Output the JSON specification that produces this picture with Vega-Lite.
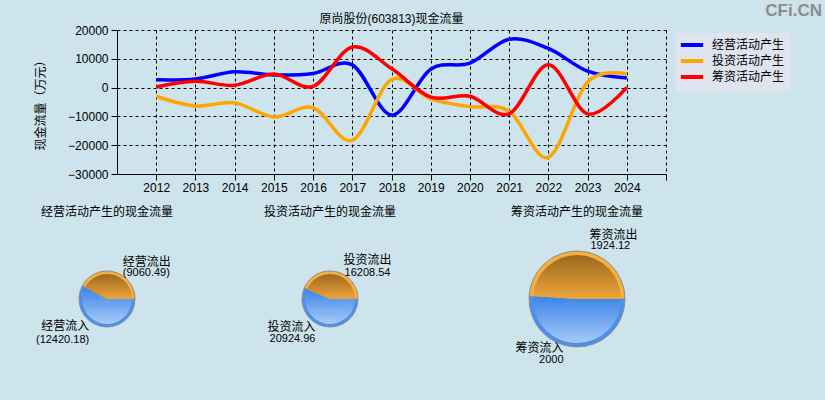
{
  "$schema": "https://vega.github.io/schema/vega-lite/v6.json",
  "background": "#cde4ec",
  "padding": {"left": 33, "top": 2, "right": 3, "bottom": 31},
  "title": {"text": "CFi.CN", "anchor": "end", "frame": "bounds", "fontSize": 17, "fontWeight": "bold", "color": "#8c8c8c", "font": "Liberation Sans", "dx": 31, "offset": -7},
  "config": {
    "font": "Liberation Sans, Noto Sans CJK SC",
    "view": {"stroke": null},
    "title": {"font": "Liberation Sans, Noto Sans CJK SC", "fontSize": 12, "fontWeight": "normal", "color": "#000"},
    "axis": {"labelFont": "Liberation Sans, Noto Sans CJK SC", "labelFontSize": 12, "labelColor": "#000", "titleFont": "Noto Sans CJK SC", "titleFontSize": 12, "titleFontWeight": "normal", "titleColor": "#000", "domainColor": "#000", "tickColor": "#000", "gridColor": "#000", "gridOpacity": 1, "gridDash": [3, 3], "gridWidth": 1}
  },
  "datasets": {
    "flows": [
      {"year": 2012, "s": "经营活动产生", "v": 2700}, {"year": 2013, "s": "经营活动产生", "v": 3000}, {"year": 2014, "s": "经营活动产生", "v": 5500}, {"year": 2015, "s": "经营活动产生", "v": 4400}, {"year": 2016, "s": "经营活动产生", "v": 4900}, {"year": 2017, "s": "经营活动产生", "v": 7900}, {"year": 2018, "s": "经营活动产生", "v": -9500}, {"year": 2019, "s": "经营活动产生", "v": 6400}, {"year": 2020, "s": "经营活动产生", "v": 8500}, {"year": 2021, "s": "经营活动产生", "v": 16800}, {"year": 2022, "s": "经营活动产生", "v": 13600}, {"year": 2023, "s": "经营活动产生", "v": 5700}, {"year": 2024, "s": "经营活动产生", "v": 3359.69},
      {"year": 2012, "s": "投资活动产生", "v": -3000}, {"year": 2013, "s": "投资活动产生", "v": -6400}, {"year": 2014, "s": "投资活动产生", "v": -5300}, {"year": 2015, "s": "投资活动产生", "v": -10200}, {"year": 2016, "s": "投资活动产生", "v": -7000}, {"year": 2017, "s": "投资活动产生", "v": -18300}, {"year": 2018, "s": "投资活动产生", "v": 2800}, {"year": 2019, "s": "投资活动产生", "v": -3900}, {"year": 2020, "s": "投资活动产生", "v": -6600}, {"year": 2021, "s": "投资活动产生", "v": -8200}, {"year": 2022, "s": "投资活动产生", "v": -24200}, {"year": 2023, "s": "投资活动产生", "v": 2000}, {"year": 2024, "s": "投资活动产生", "v": 4716.42},
      {"year": 2012, "s": "筹资活动产生", "v": 200}, {"year": 2013, "s": "筹资活动产生", "v": 2200}, {"year": 2014, "s": "筹资活动产生", "v": 800}, {"year": 2015, "s": "筹资活动产生", "v": 4700}, {"year": 2016, "s": "筹资活动产生", "v": 450}, {"year": 2017, "s": "筹资活动产生", "v": 14100}, {"year": 2018, "s": "筹资活动产生", "v": 6600}, {"year": 2019, "s": "筹资活动产生", "v": -3300}, {"year": 2020, "s": "筹资活动产生", "v": -3000}, {"year": 2021, "s": "筹资活动产生", "v": -9100}, {"year": 2022, "s": "筹资活动产生", "v": 7900}, {"year": 2023, "s": "筹资活动产生", "v": -9100}, {"year": 2024, "s": "筹资活动产生", "v": 75.88}
    ],
    "pies": [
      {"g": "经营", "type": "流入", "name": "经营流入", "value": 12420.18, "label": "(12420.18)", "o": 1},
      {"g": "经营", "type": "流出", "name": "经营流出", "value": 9060.49, "label": "(9060.49)", "o": 2},
      {"g": "投资", "type": "流入", "name": "投资流入", "value": 20924.96, "label": "20924.96", "o": 1},
      {"g": "投资", "type": "流出", "name": "投资流出", "value": 16208.54, "label": "16208.54", "o": 2},
      {"g": "筹资", "type": "流入", "name": "筹资流入", "value": 2000, "label": "2000", "o": 1},
      {"g": "筹资", "type": "流出", "name": "筹资流出", "value": 1924.12, "label": "1924.12", "o": 2}
    ]
  },
  "spacing": 13,
  "vconcat": [
    {
      "spacing": 0.001,
      "hconcat": [
        {"width": 0.01, "height": 0.01, "data": {"values": []}, "mark": "point"},
        {
          "width": 549,
          "height": 144,
          "title": {"text": "原尚股份(603813)现金流量", "offset": -2},
          "data": {"name": "flows"},
          "mark": {"type": "line", "interpolate": "cardinal", "strokeWidth": 3.5},
          "encoding": {
            "x": {"field": "year", "type": "quantitative", "scale": {"domain": [2011, 2025], "nice": false, "zero": false},
                  "axis": {"title": null, "values": [2012, 2013, 2014, 2015, 2016, 2017, 2018, 2019, 2020, 2021, 2022, 2023, 2024, 2025], "format": "d", "labelExpr": "datum.value == 2025 ? '' : datum.label", "tickSize": 6, "labelPadding": 2, "labelFlush": false}},
            "y": {"field": "v", "type": "quantitative", "scale": {"domain": [-30000, 20000], "nice": false},
                  "axis": {"title": "现金流量（万元）", "values": [-30000, -20000, -10000, 0, 10000, 20000], "format": "d", "tickSize": 6, "labelPadding": 3, "titlePadding": 20}},
            "color": {"field": "s", "type": "nominal", "sort": ["经营活动产生", "投资活动产生", "筹资活动产生"],
                      "scale": {"domain": ["经营活动产生", "投资活动产生", "筹资活动产生"], "range": ["#0000ff", "#ffa500", "#ff0000"]},
                      "legend": {"title": null, "orient": "none", "legendX": 643, "legendY": 3, "fillColor": "#dfe4ef", "padding": 6, "symbolType": "M-2.8,0H2.8", "symbolStrokeWidth": 4, "symbolSize": 64, "labelFontSize": 12, "labelFont": "Noto Sans CJK SC", "labelColor": "#000", "labelOffset": 14, "rowPadding": 0, "symbolOffset": 4}}
          }
        }
      ]
    },
    {
      "data": {"name": "pies"},
      "spacing": 75,
      "hconcat": [
        {
          "width": 148, "height": 140,
          "title": {"text": "经营活动产生的现金流量", "offset": 10},
          "transform": [{"filter": "datum.g === '经营'"}],
          "encoding": {"theta": {"field": "value", "type": "quantitative", "stack": true, "scale": {"range": [1.5708, 7.854]}}, "order": {"field": "o"}, "detail": {"field": "type"}},
          "layer": [
            {"mark": {"type": "arc", "outerRadius": 28, "stroke": "#8c8c8c", "strokeWidth": 1},
             "encoding": {"fill": {"field": "type", "type": "nominal", "scale": {"domain": ["流入", "流出"], "range": ["#4a90ec", "#f7b03c"]}, "legend": null}}},
            {"mark": {"type": "arc", "outerRadius": 25},
             "encoding": {"fill": {"condition": {"test": "datum.type === '流出'", "value": {"gradient": "linear", "x1": 0, "y1": 0, "x2": 0, "y2": 1, "stops": [{"offset": 0, "color": "#9c6820"}, {"offset": 1, "color": "#eea63a"}]}},
                                   "value": {"gradient": "linear", "x1": 0, "y1": 0, "x2": 0, "y2": 1, "stops": [{"offset": 0, "color": "#3c84ea"}, {"offset": 1, "color": "#a6caf6"}]}}}},
            {"mark": {"type": "text", "radius": 28, "align": "left", "baseline": "middle", "dx": 9, "dy": -10, "fontSize": 12, "font": "Noto Sans CJK SC"},
             "encoding": {"text": {"condition": {"test": "datum.type === '流出'", "field": "name"}, "value": ""}}},
            {"mark": {"type": "text", "radius": 28, "align": "left", "baseline": "middle", "dx": 9, "dy": 1, "fontSize": 11},
             "encoding": {"text": {"condition": {"test": "datum.type === '流出'", "field": "label"}, "value": ""}}},
            {"mark": {"type": "text", "radius": 28, "align": "right", "baseline": "middle", "dx": -11, "dy": 0, "fontSize": 12, "font": "Noto Sans CJK SC"},
             "encoding": {"text": {"condition": {"test": "datum.type === '流入'", "field": "name"}, "value": ""}}},
            {"mark": {"type": "text", "radius": 28, "align": "right", "baseline": "middle", "dx": -11, "dy": 14, "fontSize": 11},
             "encoding": {"text": {"condition": {"test": "datum.type === '流入'", "field": "label"}, "value": ""}}}
          ]
        },
        {
          "width": 148, "height": 140,
          "title": {"text": "投资活动产生的现金流量", "offset": 10},
          "transform": [{"filter": "datum.g === '投资'"}],
          "encoding": {"theta": {"field": "value", "type": "quantitative", "stack": true, "scale": {"range": [1.5708, 7.854]}}, "order": {"field": "o"}, "detail": {"field": "type"}},
          "layer": [
            {"mark": {"type": "arc", "outerRadius": 28, "stroke": "#8c8c8c", "strokeWidth": 1},
             "encoding": {"fill": {"field": "type", "type": "nominal", "scale": {"domain": ["流入", "流出"], "range": ["#4a90ec", "#f7b03c"]}, "legend": null}}},
            {"mark": {"type": "arc", "outerRadius": 25},
             "encoding": {"fill": {"condition": {"test": "datum.type === '流出'", "value": {"gradient": "linear", "x1": 0, "y1": 0, "x2": 0, "y2": 1, "stops": [{"offset": 0, "color": "#9c6820"}, {"offset": 1, "color": "#eea63a"}]}},
                                   "value": {"gradient": "linear", "x1": 0, "y1": 0, "x2": 0, "y2": 1, "stops": [{"offset": 0, "color": "#3c84ea"}, {"offset": 1, "color": "#a6caf6"}]}}}},
            {"mark": {"type": "text", "radius": 28, "align": "left", "baseline": "middle", "dx": 8, "dy": -12, "fontSize": 12, "font": "Noto Sans CJK SC"},
             "encoding": {"text": {"condition": {"test": "datum.type === '流出'", "field": "name"}, "value": ""}}},
            {"mark": {"type": "text", "radius": 28, "align": "left", "baseline": "middle", "dx": 9, "dy": 1, "fontSize": 11},
             "encoding": {"text": {"condition": {"test": "datum.type === '流出'", "field": "label"}, "value": ""}}},
            {"mark": {"type": "text", "radius": 28, "align": "right", "baseline": "middle", "dx": -9, "dy": 1, "fontSize": 12, "font": "Noto Sans CJK SC"},
             "encoding": {"text": {"condition": {"test": "datum.type === '流入'", "field": "name"}, "value": ""}}},
            {"mark": {"type": "text", "radius": 28, "align": "right", "baseline": "middle", "dx": -9, "dy": 13, "fontSize": 11},
             "encoding": {"text": {"condition": {"test": "datum.type === '流入'", "field": "label"}, "value": ""}}}
          ]
        },
        {
          "width": 196, "height": 140,
          "title": {"text": "筹资活动产生的现金流量", "offset": 10},
          "transform": [{"filter": "datum.g === '筹资'"}],
          "encoding": {"theta": {"field": "value", "type": "quantitative", "stack": true, "scale": {"range": [1.5708, 7.854]}}, "order": {"field": "o"}, "detail": {"field": "type"}},
          "layer": [
            {"mark": {"type": "arc", "outerRadius": 48, "stroke": "#8c8c8c", "strokeWidth": 1},
             "encoding": {"fill": {"field": "type", "type": "nominal", "scale": {"domain": ["流入", "流出"], "range": ["#4a90ec", "#f7b03c"]}, "legend": null}}},
            {"mark": {"type": "arc", "outerRadius": 44},
             "encoding": {"fill": {"condition": {"test": "datum.type === '流出'", "value": {"gradient": "linear", "x1": 0, "y1": 0, "x2": 0, "y2": 1, "stops": [{"offset": 0, "color": "#9c6820"}, {"offset": 1, "color": "#eea63a"}]}},
                                   "value": {"gradient": "linear", "x1": 0, "y1": 0, "x2": 0, "y2": 1, "stops": [{"offset": 0, "color": "#3c84ea"}, {"offset": 1, "color": "#a6caf6"}]}}}},
            {"mark": {"type": "text", "radius": 48, "align": "left", "baseline": "middle", "dx": 11, "dy": -16, "fontSize": 12, "font": "Noto Sans CJK SC"},
             "encoding": {"text": {"condition": {"test": "datum.type === '流出'", "field": "name"}, "value": ""}}},
            {"mark": {"type": "text", "radius": 48, "align": "left", "baseline": "middle", "dx": 12, "dy": -5, "fontSize": 11},
             "encoding": {"text": {"condition": {"test": "datum.type === '流出'", "field": "label"}, "value": ""}}},
            {"mark": {"type": "text", "radius": 48, "align": "right", "baseline": "middle", "dx": -12, "dy": 1, "fontSize": 12, "font": "Noto Sans CJK SC"},
             "encoding": {"text": {"condition": {"test": "datum.type === '流入'", "field": "name"}, "value": ""}}},
            {"mark": {"type": "text", "radius": 48, "align": "right", "baseline": "middle", "dx": -12, "dy": 13, "fontSize": 11},
             "encoding": {"text": {"condition": {"test": "datum.type === '流入'", "field": "label"}, "value": ""}}}
          ]
        }
      ]
    }
  ]
}
